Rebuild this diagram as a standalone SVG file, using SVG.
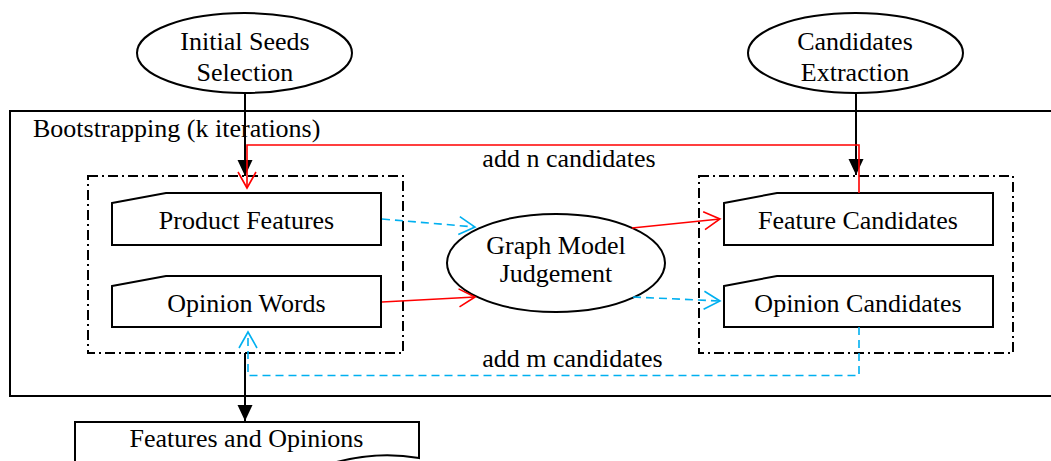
<svg xmlns="http://www.w3.org/2000/svg" width="1051" height="461" viewBox="0 0 1051 461">
<style>
text{font-family:"Liberation Serif","Times New Roman",serif;font-size:26px;fill:#000;text-anchor:middle}
.shape{fill:#fff;stroke:#000;stroke-width:2}
.dd{fill:none;stroke:#000;stroke-width:2;stroke-dasharray:10 4 2 4}
.blk{fill:none;stroke:#000;stroke-width:2}
.red{fill:none;stroke:#ff0000;stroke-width:1.6}
.blue{fill:none;stroke:#00b0f0;stroke-width:1.6;stroke-dasharray:8 5}
</style>
<defs>
<marker id="ab" markerUnits="userSpaceOnUse" markerWidth="16" markerHeight="16" refX="16" refY="7.5" orient="auto" overflow="visible"><path d="M0,0 L16,7.5 L0,15 z" fill="#000"/></marker>
<marker id="ar" markerUnits="userSpaceOnUse" markerWidth="18" markerHeight="20" refX="16" refY="9" orient="auto" overflow="visible"><path d="M0,0 L16,9 L0,18" fill="none" stroke="#ff0000" stroke-width="1.6"/></marker>
<marker id="abl" markerUnits="userSpaceOnUse" markerWidth="18" markerHeight="20" refX="16" refY="9" orient="auto" overflow="visible"><path d="M0,0 L16,9 L0,18" fill="none" stroke="#00b0f0" stroke-width="1.6"/></marker>
</defs>
<g id="bootstrapping">
<rect x="10" y="111" width="1060" height="285" class="blk"/>
<text x="33" y="137" style="text-anchor:start">Bootstrapping (k iterations)</text>
</g>
<g id="seed-group"><rect x="88" y="176" width="315" height="177" class="dd"/></g>
<g id="candidate-group"><rect x="699" y="176" width="314" height="177" class="dd"/></g>
<g id="initial-seeds">
<ellipse cx="244.5" cy="53" rx="107.5" ry="40" class="shape"/>
<text x="245" y="50">Initial Seeds</text>
<text x="245" y="81">Selection</text>
</g>
<g id="candidates-extraction">
<ellipse cx="855.5" cy="53" rx="107.5" ry="40" class="shape"/>
<text x="855" y="50">Candidates</text>
<text x="855" y="81">Extraction</text>
</g>
<g id="product-features">
<path d="M112,203 L166,193 H381 V245 H112 Z" class="shape"/>
<text x="246.5" y="229">Product Features</text>
</g>
<g id="opinion-words">
<path d="M112,286 L166,276 H381 V327 H112 Z" class="shape"/>
<text x="246.5" y="312">Opinion Words</text>
</g>
<g id="feature-candidates">
<path d="M724,203 L777,193 H993 V245 H724 Z" class="shape"/>
<text x="858" y="229">Feature Candidates</text>
</g>
<g id="opinion-candidates">
<path d="M724,286 L777,276 H993 V327 H724 Z" class="shape"/>
<text x="858" y="312">Opinion Candidates</text>
</g>
<g id="graph-model">
<ellipse cx="556" cy="263" rx="109" ry="49" class="shape"/>
<text x="556" y="254">Graph Model</text>
<text x="556" y="282">Judgement</text>
</g>
<g id="features-opinions">
<path d="M75,475 V422 H419 V458 C385,452 345,455 300,475" class="shape"/>
<text x="246.5" y="447">Features and Opinions</text>
</g>
<g id="connectors">
<path d="M245,93 V176" class="blk" marker-end="url(#ab)"/>
<path d="M856,93 V175" class="blk" marker-end="url(#ab)"/>
<path d="M859,193 V145 H247 V188" class="red" marker-end="url(#ar)"/>
<path d="M859,327 V375.5 H248 V332" class="blue" marker-end="url(#abl)"/>
<path d="M245,353 V421" class="blk" marker-end="url(#ab)"/>
<path d="M382,219 L475,227" class="blue" marker-end="url(#abl)"/>
<path d="M382,302 L475,297" class="red" marker-end="url(#ar)"/>
<path d="M632,228 L720,219" class="red" marker-end="url(#ar)"/>
<path d="M633,297 L720,301" class="blue" marker-end="url(#abl)"/>
<text x="569" y="167">add n candidates</text>
<text x="572.5" y="367">add m candidates</text>
</g>
</svg>
